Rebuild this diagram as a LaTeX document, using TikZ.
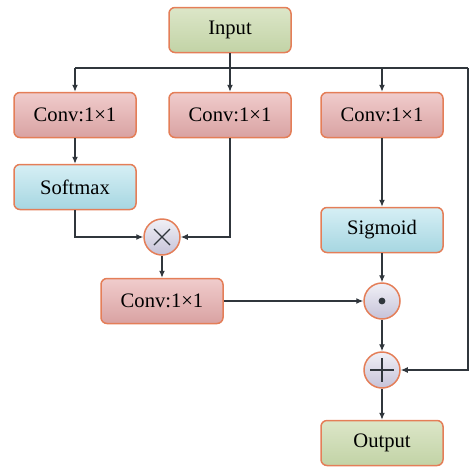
\documentclass[tikz,border=0pt]{standalone}
\usepackage{fontspec}
\setmainfont{Liberation Serif}
\usepackage{tikz}
\usetikzlibrary{positioning}
\usetikzlibrary{arrows.meta}
\usepackage{xcolor}

\definecolor{edge}{HTML}{E47E58}
\definecolor{wire}{HTML}{30363C}
\definecolor{grtop}{HTML}{DCE6C8}
\definecolor{grbot}{HTML}{C2D3A6}
\definecolor{rdtop}{HTML}{F0CCCC}
\definecolor{rdbot}{HTML}{D9A2A2}
\definecolor{bltop}{HTML}{D6EFF5}
\definecolor{blbot}{HTML}{A6D6E1}
\definecolor{cltop}{HTML}{F0F0F6}
\definecolor{clbot}{HTML}{C6C2D8}

\tikzset{
  box/.style={draw=edge, line width=0.75pt, rounded corners=3pt, minimum width=61pt, minimum height=22.5pt, inner sep=0pt, font=\fontsize{10.3}{12}\selectfont},
  iobox/.style={box, top color=grtop, bottom color=grbot},
  convbox/.style={box, top color=rdtop, bottom color=rdbot},
  actbox/.style={box, top color=bltop, bottom color=blbot},
  opcirc/.style={circle, draw=edge, line width=0.75pt, minimum size=18pt, inner sep=0pt, top color=cltop, bottom color=clbot},
  wireline/.style={draw=wire, line width=0.6pt},
  arr/.style={wireline, -{Latex[length=3.5pt,width=3pt]}},
}

\begin{document}
\begin{tikzpicture}[x=0.5pt, y=-0.5pt]

\useasboundingbox (0,0) rectangle (469,466);

% boxes
\node[iobox] (in) at (230,30) {Input};
\node[convbox] (c1) at (75,115) {Conv:1×1};
\node[convbox] (c2) at (230,115) {Conv:1×1};
\node[convbox] (c3) at (382,115) {Conv:1×1};
\node[actbox] (sm) at (75,187) {Softmax};
\node[actbox] (sg) at (382,230) {Sigmoid};
\node[convbox] (cb) at (162,301) {Conv:1×1};
\node[iobox] (out) at (382,443) {Output};

% operators
\node[opcirc] (mul) at (162,237) {};
\node[opcirc] (dot) at (382,301) {};
\node[opcirc] (plus) at (382,370) {};
\draw[wireline] ([shift={(-8,-8)}]mul.center) -- ([shift={(8,8)}]mul.center);
\draw[wireline] ([shift={(-8,8)}]mul.center) -- ([shift={(8,-8)}]mul.center);
\fill[wire] (dot.center) circle (1.7pt);
\draw[wireline] ([shift={(-12,0)}]plus.center) -- ([shift={(12,0)}]plus.center);
\draw[wireline] ([shift={(0,-12)}]plus.center) -- ([shift={(0,12)}]plus.center);

% connectors
\coordinate (tl) at (75,68);
\coordinate (tr) at (468,68);
\draw[wireline] (tl) -- (tr);
\draw[arr] (tl) -- (c1);
\draw[arr] (in) -- (c2);
\draw[arr] (c3 |- tl) -- (c3);
\draw[arr] (tr) |- (plus);
\draw[arr] (c1) -- (sm);
\draw[arr] (sm) |- (mul);
\draw[arr] (c2) |- (mul);
\draw[arr] (mul) -- (cb);
\draw[arr] (cb) -- (dot);
\draw[arr] (c3) -- (sg);
\draw[arr] (sg) -- (dot);
\draw[arr] (dot) -- (plus);
\draw[arr] (plus) -- (out);

\end{tikzpicture}
\end{document}
